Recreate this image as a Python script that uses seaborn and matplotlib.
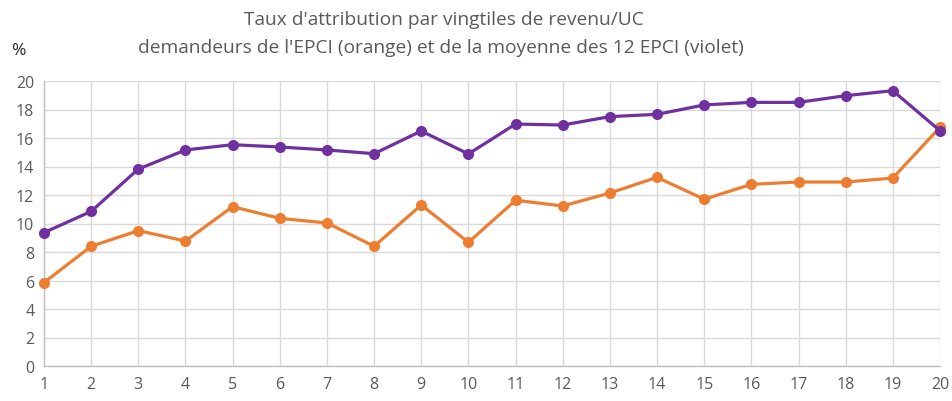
import numpy as np
import pandas as pd
import matplotlib
matplotlib.use("Agg")
import matplotlib.pyplot as plt
import seaborn as sns

# vingtiles de revenu/UC
vingtiles = list(range(1, 21))
# taux d'attribution, demandeurs de l'EPCI (orange)
taux_epci = [5.85, 8.40, 9.50, 8.77, 11.18, 10.36, 10.04, 8.40, 11.30, 8.68,
             11.63, 11.23, 12.14, 13.24, 11.70, 12.75, 12.91, 12.91, 13.19, 16.75]
# moyenne des 12 EPCI (violet)
taux_moy = [9.36, 10.85, 13.82, 15.16, 15.53, 15.37, 15.16, 14.90, 16.49, 14.88,
            16.98, 16.91, 17.50, 17.66, 18.32, 18.50, 18.50, 18.97, 19.32, 16.51]
y_ticks = list(range(0, 21, 2))

ORANGE = "#ED7D31"
VIOLET = "#7030A0"
GRID = "#D9D9D9"
TXT = "#595959"

sns.set_style("white")
plt.rcParams['font.family'] = ['Open Sans', 'DejaVu Sans']

df = pd.DataFrame({"vingtile": vingtiles + vingtiles,
                   "taux": taux_epci + taux_moy,
                   "serie": ["EPCI"] * 20 + ["Moyenne"] * 20})

fig = plt.figure(figsize=(9.53, 4.02), dpi=100)
ax = fig.add_axes([44 / 953, 1 - 367 / 402, (940 - 44) / 953, (367 - 82) / 402])

sns.lineplot(data=df, x="vingtile", y="taux", hue="serie",
             palette={"EPCI": ORANGE, "Moyenne": VIOLET},
             marker="o", markersize=8, markeredgewidth=0, linewidth=2.3,
             legend=False, ax=ax, zorder=3, clip_on=False)

ax.set_xlim(1, 20)
ax.set_ylim(0, 20)
ax.set_xticks(vingtiles)
ax.set_yticks(y_ticks)
ax.grid(True, color=GRID, linewidth=1)
ax.set_axisbelow(True)
for side in ["top", "right"]:
    ax.spines[side].set_visible(False)
for side in ["left", "bottom"]:
    ax.spines[side].set_color("#BFBFBF")
    ax.spines[side].set_linewidth(1)
ax.tick_params(axis="both", length=0, labelsize=11.5, labelcolor=TXT, pad=7)
ax.set_xlabel("")
ax.set_ylabel("")

fig.text(444 / 953, 1 - 20 / 402, "Taux d'attribution par vingtiles de revenu/UC",
         ha="center", va="center", fontsize=13.8, color=TXT)
fig.text(441 / 953, 1 - 48 / 402,
         "demandeurs de l'EPCI (orange) et de la moyenne des 12 EPCI (violet)",
         ha="center", va="center", fontsize=13.8, color=TXT)
fig.text(18 / 953, 1 - 51 / 402, "%", ha="center", va="center", fontsize=12.5, color="#262626")

fig.savefig("out.png", dpi=100)
